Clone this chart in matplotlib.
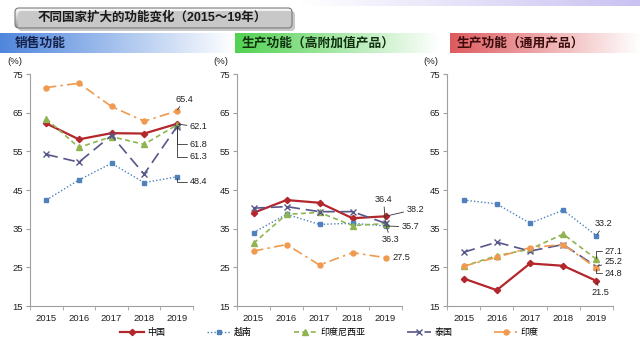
import numpy as np
from matplotlib import pyplot as plt
from matplotlib.patches import FancyBboxPatch

plt.rcParams['font.family'] = ['Liberation Sans', 'Noto Sans CJK SC', 'DejaVu Sans']

years = ["2015", "2016", "2017", "2018", "2019"]
countries = ["中国", "越南", "印度尼西亚", "泰国", "印度"]
panel_titles = ["销售功能", "生产功能（高附加值产品）", "生产功能（通用产品）"]
main_title = "不同国家扩大的功能变化（2015～19年）"

# sales function
sales_china = [62.2, 58.1, 59.7, 59.6, 62.1]
sales_vietnam = [42.4, 47.6, 51.9, 46.9, 48.4]
sales_indonesia = [63.4, 56.0, 58.8, 56.8, 61.8]
sales_thailand = [54.2, 52.2, 59.1, 49.1, 61.3]
sales_india = [71.5, 72.6, 66.6, 62.8, 65.4]

# production, high value-added products
high_china = [39.1, 42.4, 41.7, 37.7, 38.2]
high_vietnam = [34.0, 38.7, 36.1, 36.4, 35.7]
high_indonesia = [31.2, 38.7, 39.2, 35.8, 36.3]
high_thailand = [40.3, 40.7, 39.4, 39.4, 36.4]
high_india = [29.2, 30.9, 25.6, 28.8, 27.5]

# production, general products
gen_china = [22.1, 19.1, 26.0, 25.4, 21.5]
gen_vietnam = [42.4, 41.4, 36.4, 39.8, 33.2]
gen_indonesia = [25.3, 28.0, 29.7, 33.6, 27.1]
gen_thailand = [28.9, 31.5, 29.2, 30.9, 25.2]
gen_india = [25.3, 27.6, 30.1, 30.9, 24.8]

panels = [
    [sales_china, sales_vietnam, sales_indonesia, sales_thailand, sales_india],
    [high_china, high_vietnam, high_indonesia, high_thailand, high_india],
    [gen_china, gen_vietnam, gen_indonesia, gen_thailand, gen_india],
]

styles = [
    dict(color='#b3262c', linestyle='-', marker='D', markersize=3.2, linewidth=1.6),
    dict(color='#4f81bd', linestyle=(0, (1, 1.5)), marker='s', markersize=3.4, linewidth=1.0),
    dict(color='#8fb451', linestyle=(0, (3, 2)), marker='^', markersize=3.8, linewidth=1.2),
    dict(color='#56568a', linestyle=(0, (7, 3.5)), marker='x', markersize=4.2, linewidth=1.2, markeredgewidth=1.0),
    dict(color='#ef9a4f', linestyle=(0, (6, 2.5, 1.5, 2.5)), marker='o', markersize=3.6, linewidth=1.2),
]

# label offsets (points) for the 2019 values: (dx, dy, ha, leader, connection)
label_offsets = [
    [(9.4, -2.2, 'left', True, 'arc3'), (9.4, -3.6, 'left', True, 'angle,angleA=0,angleB=90'),
     (9.4, -13.7, 'left', True, 'angle,angleA=0,angleB=90'), (9.4, -21.6, 'left', True, 'angle,angleA=0,angleB=90'),
     (5.8, 8.6, 'center', True, 'arc3')],
    [(15, 5, 'left', True, 'arc3'), (11.5, -0.7, 'left', True, 'arc3'),
     (3.6, -11.5, 'center', True, 'arc3'), (-1.4, 17, 'center', True, 'arc3'),
     (5, 0, 'left', False, 'arc3')],
    [(2.9, -8.6, 'center', True, 'arc3'), (5.4, 8.6, 'center', True, 'arc3'),
     (5.8, 5.8, 'left', True, 'angle,angleA=0,angleB=90'), (5.8, 3.6, 'left', True, 'arc3'),
     (5.8, -3.6, 'left', True, 'angle,angleA=0,angleB=90')],
]

W, H = 640, 341
fig = plt.figure(figsize=(W / 100, H / 100), dpi=100)
fig.patch.set_facecolor('white')

# background decorations in pixel coordinates
bg = fig.add_axes([0, 0, 1, 1], zorder=0)
bg.set_xlim(0, W)
bg.set_ylim(H, 0)
bg.axis('off')


def hgrad(x0, x1, y0, y1, c0, c1):
    c0 = np.array(plt.matplotlib.colors.to_rgb(c0))
    c1 = np.array(plt.matplotlib.colors.to_rgb(c1))
    t = np.linspace(0, 1, 256)[None, :, None]
    img = c0 + (c1 - c0) * t
    bg.imshow(img, extent=(x0, x1, y1, y0), aspect='auto', interpolation='bilinear')


hgrad(300, 640, 0, 6, '#ffffff', '#c9c2f2')
hgrad(0, 235, 33, 53, '#4f86dc', '#ffffff')
hgrad(235, 440, 33, 53, '#52d152', '#ffffff')
hgrad(450, 640, 33, 53, '#de5a5e', '#ffffff')

bg.text(15, 43.5, panel_titles[0], fontsize=9.2, fontweight='bold', color='#14224a',
        va='center', ha='left')
bg.text(242, 43.5, panel_titles[1], fontsize=9.2, fontweight='bold', color='#103010',
        va='center', ha='left')
bg.text(457, 43.5, panel_titles[2], fontsize=9.2, fontweight='bold', color='#3a0c0c',
        va='center', ha='left')

# title box with a vertical grey gradient
shadow = FancyBboxPatch((18, 11), 277, 20, boxstyle='round,pad=0,rounding_size=4',
                        facecolor='#c8c8c8', edgecolor='none')
bg.add_patch(shadow)
box = FancyBboxPatch((15, 8), 277, 20, boxstyle='round,pad=0,rounding_size=4',
                     facecolor='none', edgecolor='#7a7a7a', linewidth=0.8)
bg.add_patch(box)
v = np.linspace(0, 1, 64)[:, None, None]
top = np.array([0.97, 0.97, 0.97])
bot = np.array([0.58, 0.58, 0.58])
grad = top + (bot - top) * v ** 1.3
im = bg.imshow(grad, extent=(15, 292, 28, 8), aspect='auto', interpolation='bilinear')
im.set_clip_path(box)
bg.text(152, 17.5, main_title, fontsize=9, fontweight='bold', color='#1a1a1a',
        ha='center', va='center')

ax_boxes = [(30, 163), (237, 165), (447, 166)]
x = np.arange(len(years))
handles = []
for p, (left, width) in enumerate(ax_boxes):
    ax = fig.add_axes([left / W, (H - 306) / H, width / W, 232 / H], zorder=2)
    ax.set_facecolor('none')
    for i, series in enumerate(panels[p]):
        ln, = ax.plot(x, series, label=countries[i], **styles[i])
        if p == 0:
            handles.append(ln)
        dx, dy, ha, leader, conn = label_offsets[p][i]
        arrow = dict(arrowstyle='-', color='#333333', lw=0.6, shrinkA=0, shrinkB=1,
                     connectionstyle=conn) if leader else None
        ax.annotate(f"{series[-1]:.1f}", xy=(x[-1], series[-1]), xytext=(dx, dy),
                    textcoords='offset points', ha=ha, va='center', fontsize=6.6,
                    color='#222222', arrowprops=arrow, zorder=5)
    ax.set_xlim(-0.5, 4.5)
    ax.set_ylim(15, 75)
    ax.set_yticks(range(15, 76, 10))
    ax.set_xticks(x)
    ax.set_xticklabels(years)
    ax.set_xticks(np.arange(-0.5, 5, 1), minor=True)
    ax.tick_params(axis='x', which='major', length=0, labelsize=6.8, pad=6, labelcolor='#222222')
    ax.tick_params(axis='x', which='minor', length=3, direction='out', color='#a0a0a0')
    ax.tick_params(axis='y', length=3, direction='out', color='#a0a0a0', labelsize=6.8,
                   labelcolor='#222222', pad=2)
    for s in ['top', 'right']:
        ax.spines[s].set_visible(False)
    for s in ['left', 'bottom']:
        ax.spines[s].set_color('#a0a0a0')
        ax.spines[s].set_linewidth(0.8)
    ax.text(-0.095, 1.035, "(%)", transform=ax.transAxes, fontsize=6.8, color='#222222',
            ha='center', va='bottom')

fig.legend(handles, countries, loc='center', bbox_to_anchor=(0.515, 0.025), ncol=5,
           frameon=False, fontsize=6.5, handlelength=2.6, columnspacing=4.6,
           handletextpad=0.4)

plt.savefig("out.png", dpi=100)
plt.close()
